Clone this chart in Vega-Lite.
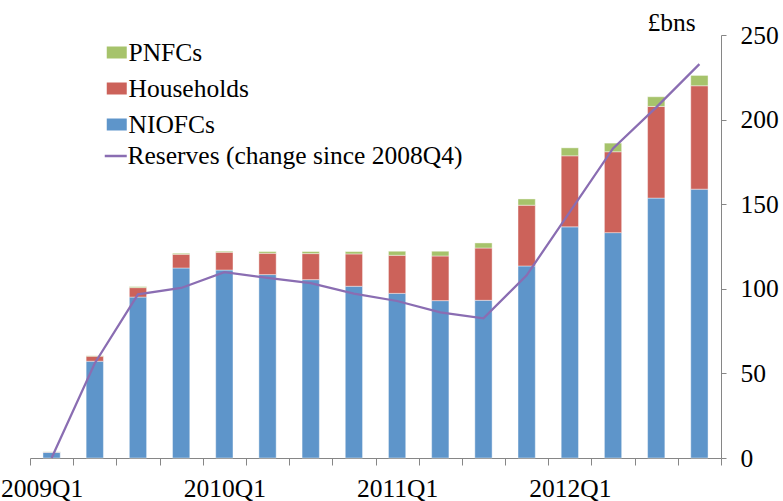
{
  "$schema": "https://vega.github.io/schema/vega-lite/v6.json",
  "width": 691,
  "height": 423,
  "autosize": {"type": "none"},
  "padding": {"left": 30, "top": 35, "right": 62, "bottom": 43},
  "background": "white",
  "config": {"view": {"stroke": null}, "font": "Liberation Serif"},
  "datasets": {
    "bars": [
      {"q": "2009Q1", "s": "NIOFCs", "k": 1, "v": 3.4},
      {"q": "2009Q1", "s": "Households", "k": 2, "v": 0.2},
      {"q": "2009Q1", "s": "PNFCs", "k": 3, "v": 0.1},
      {"q": "2009Q2", "s": "NIOFCs", "k": 1, "v": 57.2},
      {"q": "2009Q2", "s": "Households", "k": 2, "v": 3.0},
      {"q": "2009Q2", "s": "PNFCs", "k": 3, "v": 0.3},
      {"q": "2009Q3", "s": "NIOFCs", "k": 1, "v": 95.1},
      {"q": "2009Q3", "s": "Households", "k": 2, "v": 5.6},
      {"q": "2009Q3", "s": "PNFCs", "k": 3, "v": 0.6},
      {"q": "2009Q4", "s": "NIOFCs", "k": 1, "v": 112.3},
      {"q": "2009Q4", "s": "Households", "k": 2, "v": 8.1},
      {"q": "2009Q4", "s": "PNFCs", "k": 3, "v": 0.6},
      {"q": "2010Q1", "s": "NIOFCs", "k": 1, "v": 111.1},
      {"q": "2010Q1", "s": "Households", "k": 2, "v": 10.5},
      {"q": "2010Q1", "s": "PNFCs", "k": 3, "v": 0.6},
      {"q": "2010Q2", "s": "NIOFCs", "k": 1, "v": 108.4},
      {"q": "2010Q2", "s": "Households", "k": 2, "v": 12.6},
      {"q": "2010Q2", "s": "PNFCs", "k": 3, "v": 1.0},
      {"q": "2010Q3", "s": "NIOFCs", "k": 1, "v": 105.4},
      {"q": "2010Q3", "s": "Households", "k": 2, "v": 15.4},
      {"q": "2010Q3", "s": "PNFCs", "k": 3, "v": 1.2},
      {"q": "2010Q4", "s": "NIOFCs", "k": 1, "v": 101.5},
      {"q": "2010Q4", "s": "Households", "k": 2, "v": 19.1},
      {"q": "2010Q4", "s": "PNFCs", "k": 3, "v": 1.4},
      {"q": "2011Q1", "s": "NIOFCs", "k": 1, "v": 97.3},
      {"q": "2011Q1", "s": "Households", "k": 2, "v": 22.5},
      {"q": "2011Q1", "s": "PNFCs", "k": 3, "v": 2.4},
      {"q": "2011Q2", "s": "NIOFCs", "k": 1, "v": 93.0},
      {"q": "2011Q2", "s": "Households", "k": 2, "v": 26.4},
      {"q": "2011Q2", "s": "PNFCs", "k": 3, "v": 2.8},
      {"q": "2011Q3", "s": "NIOFCs", "k": 1, "v": 93.2},
      {"q": "2011Q3", "s": "Households", "k": 2, "v": 30.9},
      {"q": "2011Q3", "s": "PNFCs", "k": 3, "v": 3.0},
      {"q": "2011Q4", "s": "NIOFCs", "k": 1, "v": 113.5},
      {"q": "2011Q4", "s": "Households", "k": 2, "v": 35.9},
      {"q": "2011Q4", "s": "PNFCs", "k": 3, "v": 3.7},
      {"q": "2012Q1", "s": "NIOFCs", "k": 1, "v": 136.6},
      {"q": "2012Q1", "s": "Households", "k": 2, "v": 42.0},
      {"q": "2012Q1", "s": "PNFCs", "k": 3, "v": 4.7},
      {"q": "2012Q2", "s": "NIOFCs", "k": 1, "v": 133.2},
      {"q": "2012Q2", "s": "Households", "k": 2, "v": 47.8},
      {"q": "2012Q2", "s": "PNFCs", "k": 3, "v": 5.1},
      {"q": "2012Q3", "s": "NIOFCs", "k": 1, "v": 153.6},
      {"q": "2012Q3", "s": "Households", "k": 2, "v": 54.2},
      {"q": "2012Q3", "s": "PNFCs", "k": 3, "v": 5.7},
      {"q": "2012Q4", "s": "NIOFCs", "k": 1, "v": 158.9},
      {"q": "2012Q4", "s": "Households", "k": 2, "v": 61.1},
      {"q": "2012Q4", "s": "PNFCs", "k": 3, "v": 6.1}
    ],
    "res": [
      {"q": "2009Q1", "v": 0},
      {"q": "2009Q2", "v": 56},
      {"q": "2009Q3", "v": 96.7},
      {"q": "2009Q4", "v": 100.5},
      {"q": "2010Q1", "v": 109.8},
      {"q": "2010Q2", "v": 106.4},
      {"q": "2010Q3", "v": 103.4},
      {"q": "2010Q4", "v": 97.2},
      {"q": "2011Q1", "v": 92.8},
      {"q": "2011Q2", "v": 86.1},
      {"q": "2011Q3", "v": 82.5},
      {"q": "2011Q4", "v": 108.0},
      {"q": "2012Q1", "v": 145.4},
      {"q": "2012Q2", "v": 183.0},
      {"q": "2012Q3", "v": 207.2},
      {"q": "2012Q4", "v": 232.8}
    ]
  },
  "layer": [
    {
      "data": {"name": "bars"},
      "mark": {"type": "bar", "width": {"band": 0.4}, "stroke": "white", "strokeWidth": 0.6, "strokeOpacity": 0.7},
      "encoding": {
        "x": {
          "field": "q", "type": "ordinal", "sort": null,
          "scale": {"paddingInner": 0, "paddingOuter": 0},
          "axis": {
            "title": null, "labelAngle": 0, "tickBand": "extent", "grid": false,
            "labelExpr": "test(/Q1$/, '' + datum.label) ? datum.label : ''",
            "labelOffset": {"condition": {"test": "datum.label == '2009Q1'", "value": -10}, "value": 0},
            "labelFont": "Liberation Serif", "labelFontSize": 25.5, "labelColor": "black",
            "labelPadding": 11, "tickSize": 7, "tickColor": "#868686", "domainColor": "#868686",
            "labelOverlap": false
          }
        },
        "y": {
          "field": "v", "type": "quantitative", "stack": "zero",
          "scale": {"domain": [0, 250], "nice": false},
          "axis": {
            "orient": "right", "values": [0, 50, 100, 150, 200, 250], "grid": false,
            "labelFont": "Liberation Serif", "labelFontSize": 25.5, "labelColor": "black",
            "labelPadding": 14, "tickSize": 5, "tickColor": "#868686", "domainColor": "#868686",
            "title": "£bns", "titleAngle": 0, "titleX": -50, "titleY": -5, "titleAlign": "center",
            "titleBaseline": "alphabetic", "titleFont": "Liberation Serif", "titleFontSize": 25.5,
            "titleFontWeight": "normal", "titleColor": "black"
          }
        },
        "color": {
          "field": "s", "type": "nominal",
          "scale": {"domain": ["PNFCs", "Households", "NIOFCs"], "range": ["#a6c36b", "#cc625a", "#5e95ca"]},
          "legend": {
            "orient": "none", "legendX": 74, "legendY": 4.75, "title": null, "padding": 0,
            "symbolType": "M-1,-0.6H1V0.6H-1Z", "symbolSize": 400, "symbolStrokeWidth": 0,
            "labelFont": "Liberation Serif", "labelFontSize": 25.5, "labelColor": "black",
            "labelOffset": -1, "rowPadding": 9, "labelLimit": 500
          }
        },
        "order": {"field": "k", "type": "quantitative", "sort": "ascending"}
      }
    },
    {
      "data": {"name": "res"},
      "mark": {"type": "line", "strokeWidth": 2.25},
      "encoding": {
        "x": {"field": "q", "type": "ordinal", "sort": null},
        "y": {"field": "v", "type": "quantitative"},
        "stroke": {
          "datum": "Reserves (change since 2008Q4)", "type": "nominal",
          "scale": {"range": ["#8a6db2"]},
          "legend": {
            "orient": "none", "legendX": 73, "legendY": 108.25, "title": null, "padding": 0,
            "symbolType": "stroke", "symbolSize": 484, "symbolStrokeWidth": 2.5,
            "labelFont": "Liberation Serif", "labelFontSize": 25.5, "labelColor": "black",
            "labelOffset": -1, "labelLimit": 500
          }
        }
      }
    }
  ]
}
